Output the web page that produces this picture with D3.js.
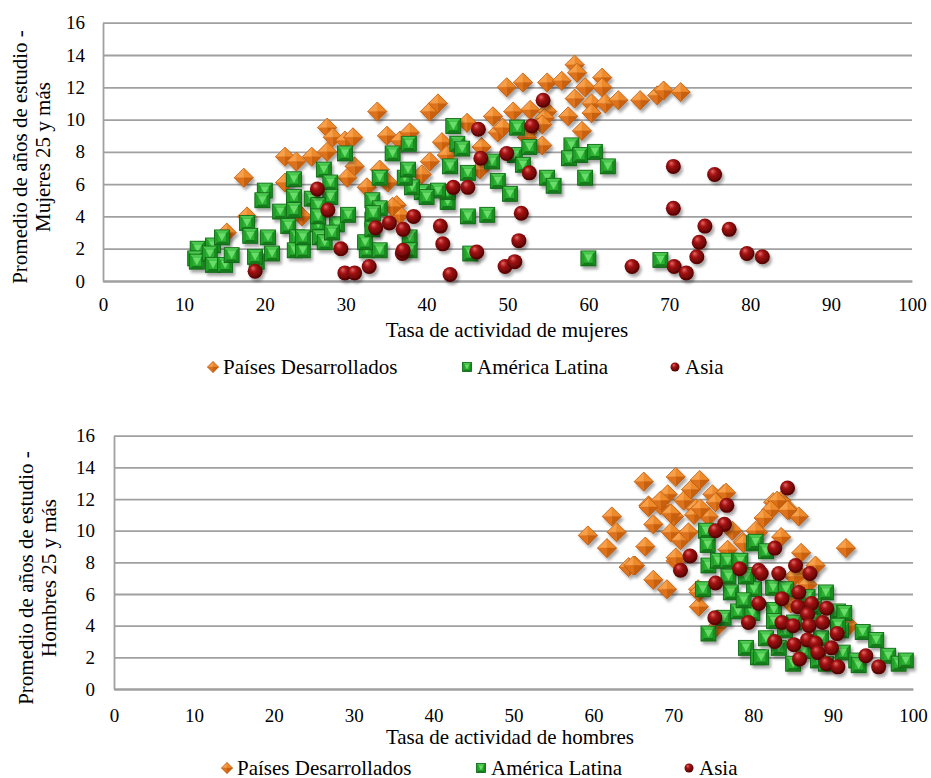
<!DOCTYPE html>
<html lang="es">
<head>
<meta charset="UTF-8">
<title>Años de estudio y tasa de actividad</title>
<style>
  body { margin: 0; background: #fff; }
  svg text { font-family: "Liberation Serif", "Times New Roman", serif; fill: #000; }
</style>
</head>
<body>
<script src="https://cdnjs.cloudflare.com/ajax/libs/d3/7.8.5/d3.min.js"></script>
<script>

var seriesNames = ["Países Desarrollados", "América Latina", "Asia"];
var xTicks = [0, 10, 20, 30, 40, 50, 60, 70, 80, 90, 100];
var yTicks = [0, 2, 4, 6, 8, 10, 12, 14, 16];

// [tasa de actividad, promedio de años de estudio]
var mujeresDesarrollados = [
  [17.4,6.4],[22.5,7.7],[23.9,7.4],[25.8,7.7],[22.5,6.1],[17.8,4.0],[15.3,3.0],[24.6,4.0],
  [27.7,9.5],[28.4,8.9],[29.9,8.7],[30.9,8.9],[27.7,8.0],[31.1,7.1],[30.2,6.4],[33.9,10.5],
  [35.1,9.0],[36.7,8.7],[37.9,9.2],[34.2,6.9],[35.2,6.1],[32.6,5.8],[36.3,4.7],[36.7,4.1],
  [40.4,10.5],[41.4,11.0],[41.9,8.6],[40.4,7.4],[42.5,7.8],[39.4,6.6],[45.0,9.8],[46.8,8.3],
  [46.6,6.9],[48.2,10.2],[48.8,9.2],[49.9,12.0],[51.9,12.3],[50.7,10.5],[52.8,10.6],[52.5,9.2],
  [54.3,8.4],[54.9,12.3],[56.7,12.4],[58.3,13.4],[58.6,12.9],[59.6,12.0],[58.3,11.3],[57.5,10.2],
  [60.4,11.0],[61.7,12.6],[61.7,12.0],[62.1,11.0],[60.4,10.4],[59.2,9.3],[54.9,10.5],[54.6,10.1],
  [54.3,9.7],[49.4,9.5],[63.7,11.2],[66.4,11.2],[68.5,11.5],[69.3,11.8],[71.4,11.7],[35.8,4.6],
  [52.4,8.9]
];
var mujeresAmerica = [
  [11.7,2.0],[11.4,1.4],[11.6,1.2],[13.6,2.2],[14.7,2.7],[13.2,1.7],[13.6,1.0],[15.1,1.0],
  [15.9,1.6],[17.8,3.6],[18.2,2.8],[19.0,1.2],[18.8,1.5],[20.4,2.7],[20.9,1.7],[20.0,5.6],
  [19.7,5.0],[21.9,4.3],[22.9,3.4],[23.6,6.3],[23.6,5.2],[23.6,4.4],[24.0,2.7],[23.7,1.9],
  [24.7,1.9],[24.7,2.7],[25.8,5.1],[26.6,4.4],[26.6,3.5],[26.8,2.7],[27.4,2.4],[27.3,6.9],
  [28.1,6.1],[28.1,5.2],[28.9,3.5],[30.3,4.1],[29.9,7.9],[33.3,5.0],[34.2,4.5],[33.3,3.8],
  [32.6,1.9],[34.2,1.9],[34.2,6.4],[35.8,7.9],[37.8,8.5],[43.3,9.6],[43.8,8.5],[44.4,8.2],
  [42.9,7.1],[45.1,6.7],[48.1,7.4],[48.8,6.2],[50.3,5.4],[50.9,7.8],[51.2,9.5],[51.9,7.2],
  [52.7,8.3],[54.9,6.4],[55.7,5.9],[57.9,8.4],[57.6,7.6],[59.0,7.8],[59.6,6.4],[60.8,8.0],
  [62.4,7.1],[60.0,1.4],[45.4,1.7],[47.5,4.1],[45.1,4.0],[42.6,4.9],[42.6,5.5],[41.4,5.6],
  [39.4,5.5],[40.0,5.2],[38.2,5.8],[37.3,6.4],[37.7,6.9],[33.4,4.2],[32.4,2.4],[37.9,2.7],
  [37.9,1.9],[26.6,4.7],[26.6,4.0],[28.3,3.0],[68.9,1.3],[33.3,3.2]
];
var mujeresAsia = [
  [18.8,0.6],[26.5,5.7],[27.8,4.4],[29.4,2.0],[29.9,0.5],[31.1,0.5],[32.9,0.9],[33.7,3.3],
  [35.4,3.6],[37.1,3.2],[38.4,4.0],[37.0,1.7],[37.1,1.9],[41.7,3.4],[42.0,2.3],[42.9,0.4],
  [43.3,5.8],[45.1,5.8],[46.2,1.8],[46.4,9.4],[46.7,7.6],[49.7,0.9],[50.9,1.2],[51.4,2.5],
  [51.7,4.2],[49.9,7.9],[52.7,6.7],[53.0,9.6],[54.4,11.2],[65.4,0.9],[70.5,7.1],[70.5,4.5],
  [70.6,0.9],[72.1,0.5],[73.4,1.5],[73.7,2.4],[74.4,3.4],[75.6,6.6],[77.4,3.2],[79.6,1.7],
  [81.5,1.5]
];

var hombresDesarrollados = [
  [59.3,9.7],[61.7,8.9],[62.3,10.9],[62.9,9.9],[64.4,7.7],[65.2,7.8],[66.3,13.1],[66.5,9.0],
  [66.9,11.6],[67.5,6.9],[67.5,10.4],[68.4,11.6],[69.2,6.3],[69.3,12.3],[70.3,13.4],[69.7,9.9],
  [70.1,10.9],[70.3,8.1],[70.9,9.4],[71.3,11.9],[71.9,9.9],[72.2,12.6],[73.3,13.2],[73.1,6.3],
  [73.2,5.2],[72.8,11.4],[74.9,12.3],[76.3,12.3],[74.4,10.9],[75.6,4.4],[76.8,8.8],[78.7,9.3],
  [80.6,9.9],[82.5,11.8],[83.5,11.9],[84.5,11.3],[85.7,10.9],[83.5,9.6],[86.0,8.6],[87.8,7.8],
  [91.6,8.9],[92.0,4.0],[86.0,7.1],[84.7,5.4],[72.6,11.0],[69.7,11.1],[73.4,11.4],[76.6,12.4],
  [73.2,6.1],[75.4,3.9],[77.4,10.0],[78.8,9.2],[80.3,10.0],[75.3,11.8],[83.0,11.9],[82.2,11.3],
  [84.3,11.3],[81.3,10.8],[86.8,6.6],[85.1,7.1],[68.4,11.9],[66.9,11.5],[70.3,8.3],[65.0,7.8]
];
var hombresAmerica = [
  [74.1,10.0],[74.3,9.1],[74.4,7.8],[75.6,8.1],[76.8,8.1],[73.7,6.3],[74.4,3.5],[76.3,4.5],
  [76.9,7.1],[77.2,6.1],[78.1,4.9],[78.2,8.1],[79.4,7.2],[79.1,2.6],[80.1,6.3],[80.1,9.2],
  [80.6,2.0],[79.9,4.8],[80.3,9.3],[81.6,8.7],[82.5,6.4],[84.1,6.3],[89.1,6.1],[78.8,5.6],
  [82.6,5.0],[86.8,5.8],[90.6,4.9],[91.4,4.8],[91.0,3.7],[93.7,3.6],[95.4,3.1],[81.0,2.0],
  [81.6,3.2],[83.2,2.6],[85.0,1.6],[88.5,3.2],[91.2,2.3],[92.9,1.8],[93.2,1.5],[96.9,2.1],
  [98.2,1.6],[99.1,1.8],[88.1,1.8],[89.1,1.6],[90.6,4.0],[85.1,4.2],[87.5,4.5],[78.4,8.1],
  [79.1,7.1],[82.6,4.3],[84.0,3.7],[86.3,2.4],[87.6,5.2]
];
var hombresAsia = [
  [76.7,11.6],[76.4,10.4],[75.3,10.0],[72.1,8.4],[70.9,7.5],[78.3,7.6],[75.3,6.7],[75.2,4.5],
  [79.4,4.2],[80.7,7.5],[81.0,7.3],[80.7,5.4],[84.3,12.7],[82.7,8.9],[83.2,7.3],[85.3,7.8],
  [87.1,7.3],[85.7,6.1],[83.6,5.7],[85.6,5.2],[87.3,5.4],[89.2,5.1],[86.8,4.7],[87.0,4.0],
  [88.7,4.2],[83.6,4.2],[85.0,4.0],[90.5,3.5],[82.7,3.0],[85.1,2.8],[86.8,3.1],[87.8,2.9],
  [89.8,2.6],[85.8,1.9],[88.1,2.3],[89.2,1.6],[90.6,1.4],[94.1,2.1],[95.7,1.4]
];

var svg = d3.select("body").append("svg")
  .attr("width", 931)
  .attr("height", 778);

var defs = svg.append("defs");

var shadow = defs.append("filter").attr("id", "shadow")
  .attr("x", "-10%").attr("y", "-10%").attr("width", "120%").attr("height", "120%");
shadow.append("feDropShadow")
  .attr("dx", 2).attr("dy", 3).attr("stdDeviation", 1.8)
  .attr("flood-color", "#000").attr("flood-opacity", 0.35);

var sphere = defs.append("radialGradient").attr("id", "sphere")
  .attr("cx", "45%").attr("cy", "40%").attr("r", "60%")
  .attr("fx", "35%").attr("fy", "28%");
sphere.append("stop").attr("offset", "0%").attr("stop-color", "#e46a6a");
sphere.append("stop").attr("offset", "35%").attr("stop-color", "#a81414");
sphere.append("stop").attr("offset", "100%").attr("stop-color", "#4e0000");

// marker drawing: diamond = pyramid with 4 facets, square = pyramid, circle = sphere
function diamond(sel, h) {
  var facets = [
    [[0,0],[-h,0],[0,-h]], [[0,0],[0,-h],[h,0]],
    [[0,0],[h,0],[0,h]], [[0,0],[0,h],[-h,0]]
  ];
  var cols = ["#f7a04a", "#ef8a2c", "#c9600f", "#de721a"];
  facets.forEach(function(f, i) {
    sel.append("path").attr("d", "M" + f.join("L") + "Z").attr("fill", cols[i])
      .attr("stroke", cols[i]).attr("stroke-width", 0.4);
  });
  sel.append("path").attr("d", "M" + [[-h,0],[0,-h],[h,0],[0,h]].join("L") + "Z")
    .attr("fill", "none").attr("stroke", "#b5560c").attr("stroke-width", 0.7);
}

function square(sel, h) {
  var i = h * 0.55;
  sel.append("rect").attr("x", -h).attr("y", -h).attr("width", 2 * h).attr("height", 2 * h)
    .attr("fill", "#1f9a26");
  sel.append("path").attr("d", "M" + [[-h,-h],[h,-h],[i,-i],[-i,-i]].join("L") + "Z").attr("fill", "#4cc84f");
  sel.append("path").attr("d", "M" + [[-h,h],[h,h],[i,i],[-i,i]].join("L") + "Z").attr("fill", "#157a1b");
  sel.append("path").attr("d", "M" + [[-h,-h],[-i,-i],[-i,i],[-h,h]].join("L") + "Z").attr("fill", "#23a02a");
  sel.append("path").attr("d", "M" + [[h,-h],[i,-i],[i,i],[h,h]].join("L") + "Z").attr("fill", "#1a8b20");
  sel.append("rect").attr("x", -i).attr("y", -i).attr("width", 2 * i).attr("height", 2 * i)
    .attr("fill", "#2cb133");
  sel.append("path").attr("d", "M" + [[-i,-i],[i,-i],[0,i * 0.9]].join("L") + "Z").attr("fill", "#6bdc6b");
  sel.append("rect").attr("x", -h).attr("y", -h).attr("width", 2 * h).attr("height", 2 * h)
    .attr("fill", "none").attr("stroke", "#106616").attr("stroke-width", 0.8);
}

function ball(sel, r) {
  sel.append("circle").attr("r", r).attr("fill", "url(#sphere)");
}

var markers = [
  function(sel) { diamond(sel, 9.5); },
  function(sel) { square(sel, 7.5); },
  function(sel) { ball(sel, 7.5); }
];
var legendMarkers = [
  function(sel) { diamond(sel, 5.5); },
  function(sel) { square(sel, 4.5); },
  function(sel) { ball(sel, 4.5); }
];

function drawChart(cfg) {
  var x = d3.scaleLinear().domain([0, 100]).range([cfg.left, cfg.right]);
  var y = d3.scaleLinear().domain([0, 16]).range([cfg.bottom, cfg.top]);
  var g = svg.append("g");

  var yAxis = g.append("g")
    .attr("transform", "translate(" + cfg.left + ",0)")
    .call(d3.axisLeft(y).tickValues(yTicks).tickSize(-(cfg.right - cfg.left))
      .tickSizeOuter(0).tickPadding(cfg.yPad).tickFormat(d3.format("d")));
  yAxis.selectAll(".tick line").attr("stroke", "#a0a0a0").attr("stroke-width", 1.8);
  yAxis.select(".domain").attr("stroke", "#a0a0a0").attr("stroke-width", 1.8);
  yAxis.selectAll("text").attr("font-family", "Liberation Serif, serif").attr("font-size", 19);

  var xAxis = g.append("g")
    .attr("transform", "translate(0," + cfg.bottom + ")")
    .call(d3.axisBottom(x).tickValues(xTicks).tickSize(0).tickPadding(cfg.xPad).tickFormat(d3.format("d")));
  xAxis.select(".domain").attr("stroke", "#a0a0a0").attr("stroke-width", 1.8);
  xAxis.selectAll("text").attr("font-family", "Liberation Serif, serif").attr("font-size", 19);

  g.append("text")
    .attr("x", cfg.xTitleX).attr("y", cfg.xTitleY)
    .attr("text-anchor", "middle").attr("font-size", 21)
    .text(cfg.xTitle);

  var yt = g.append("text")
    .attr("transform", "translate(" + cfg.yTitleX + "," + cfg.yTitleY + ") rotate(-90)")
    .attr("text-anchor", "middle").attr("font-size", 21);
  yt.append("tspan").attr("x", 0).attr("y", 0).text(cfg.yTitle[0]);
  yt.append("tspan").attr("x", 0).attr("y", 23).text(cfg.yTitle[1]);

  cfg.series.forEach(function(data, i) {
    var sg = g.append("g").attr("filter", "url(#shadow)");
    sg.selectAll("g.pt").data(data).enter().append("g")
      .attr("class", "pt")
      .attr("transform", function(d) { return "translate(" + x(d[0]) + "," + y(d[1]) + ")"; })
      .each(function() { markers[i](d3.select(this)); });
  });

  var leg = g.selectAll("g.leg").data(seriesNames).enter().append("g")
    .attr("class", "leg")
    .attr("transform", function(d, i) { return "translate(" + cfg.legendX[i] + "," + cfg.legendY + ")"; });
  leg.each(function(d, i) { legendMarkers[i](d3.select(this)); });
  leg.append("text").attr("x", 10).attr("y", 6.5).attr("font-size", 21).text(function(d) { return d; });
}

drawChart({
  left: 103, right: 912, top: 22.7, bottom: 281,
  yPad: 18, xPad: 16.5,
  xTitle: "Tasa de actividad de mujeres", xTitleX: 507, xTitleY: 337,
  yTitle: ["Promedio de años de estudio -", "Mujeres 25 y más"], yTitleX: 27, yTitleY: 157,
  legendX: [213, 467, 675], legendY: 367,
  series: [mujeresDesarrollados, mujeresAmerica, mujeresAsia]
});

drawChart({
  left: 114, right: 913, top: 435.7, bottom: 689,
  yPad: 19, xPad: 19.5,
  xTitle: "Tasa de actividad de hombres", xTitleX: 510, xTitleY: 744,
  yTitle: ["Promedio de años de estudio -", "Hombres 25 y más"], yTitleX: 33, yTitleY: 578,
  legendX: [227, 481, 689], legendY: 768,
  series: [hombresDesarrollados, hombresAmerica, hombresAsia]
});

</script>
</body>
</html>
